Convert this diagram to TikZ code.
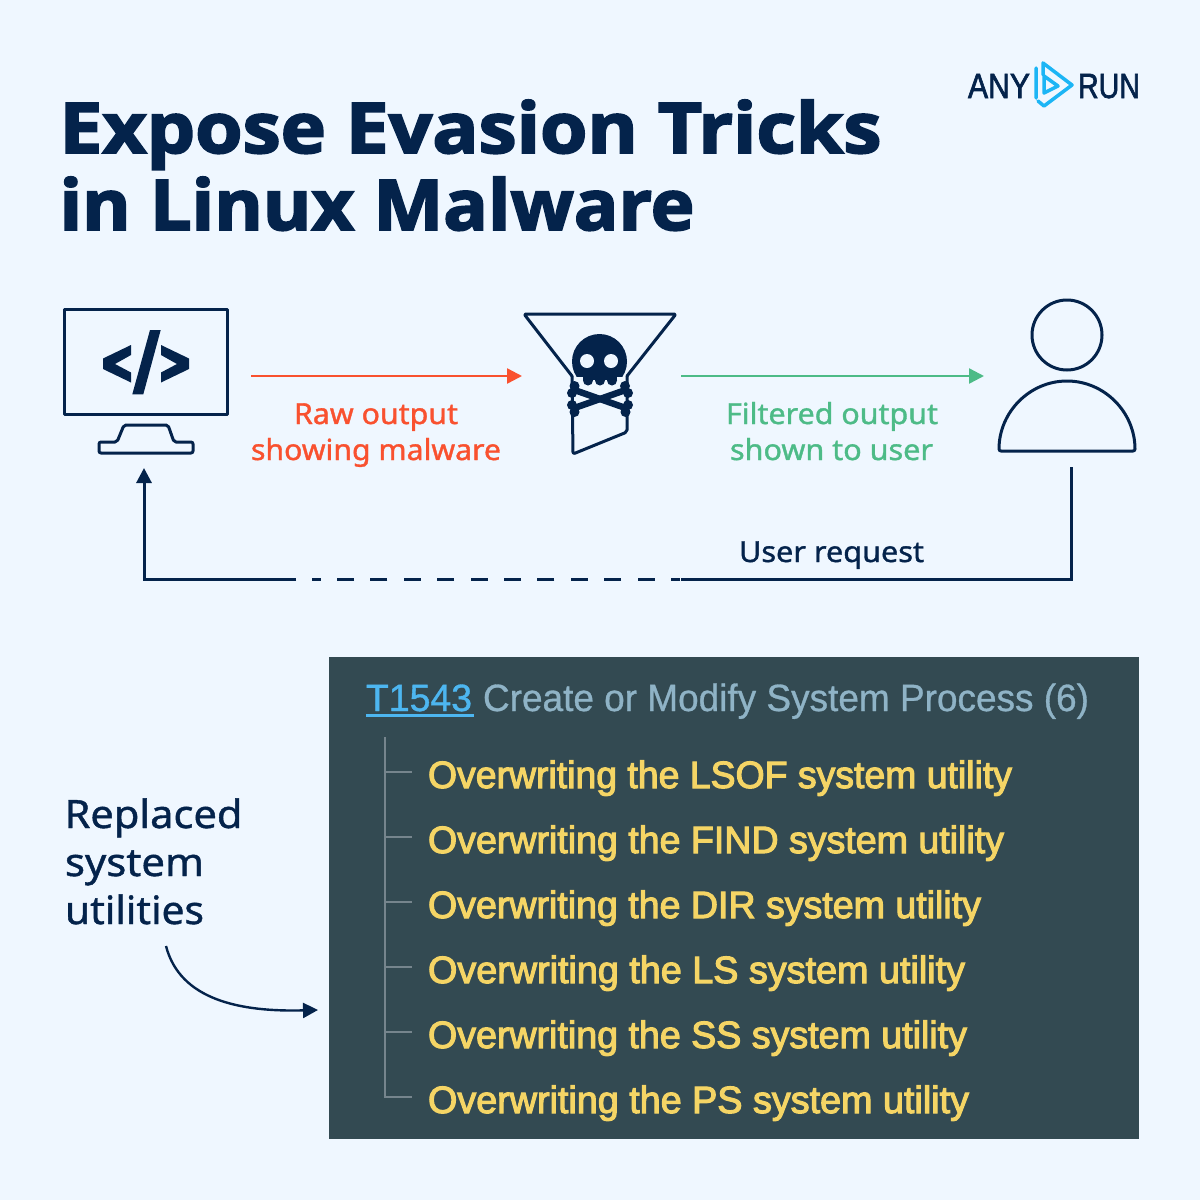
\documentclass[tikz,border=0pt]{standalone}
\usepackage{graphicx}
\usepackage{fontspec}
\setmainfont{Open Sans}
\newfontfamily\titlefont{Open Sans}
\newfontfamily\bodyfont{Noto Sans}
\newfontfamily\panelfont{Liberation Sans}
\newfontfamily\itemfont{Liberation Sans}
\newfontfamily\logofont{Liberation Sans}
\usetikzlibrary{arrows.meta}
\definecolor{bgc}{HTML}{EFF7FF}
\definecolor{navy}{HTML}{04234B}
\definecolor{redc}{HTML}{F9512F}
\definecolor{greenc}{HTML}{4DBB87}
\definecolor{panelc}{HTML}{334A52}
\definecolor{linkc}{HTML}{4DB6F0}
\definecolor{grayblue}{HTML}{8FB3C6}
\definecolor{yellowc}{HTML}{F5D565}
\definecolor{treec}{HTML}{76858D}
\definecolor{cyanc}{HTML}{1CB5F5}
% #1 target width, #2 stroke added to the glyphs, #3 text
\newcommand{\ft}[3]{\resizebox{#1pt}{\height}{\special{pdf:code 2 Tr #2 w}#3\special{pdf:code 0 Tr 1 w}}}
\tikzset{
  lbl/.style={anchor=base west,inner sep=0pt,outer sep=0pt},
  icon/.style={draw=navy,line width=3pt,line join=round,line cap=round},
  tip/.style={-{Triangle[length=15pt,width=15pt]}},
  wire/.style={line width=2.4pt},
  tree/.style={draw=treec,line width=2pt},
  bone/.style={draw=navy,line width=6.5pt}
}
\begin{document}
\begin{tikzpicture}[x=1pt,y=-1pt]
\useasboundingbox (0,0) rectangle (1200,1200);
\fill[bgc] (0,0) rectangle (1200,1200);

% title
\node[lbl,text=navy,font=\titlefont\bfseries\fontsize{70}{70}\selectfont] (t1) at (59.5,153) {\ft{822}{1.8}{Expose Evasion Tricks}};
\node[lbl,text=navy,font=\titlefont\bfseries\fontsize{70}{70}\selectfont] (t2) at (59.5,230) {\ft{635}{1.8}{in Linux Malware}};

% logo
\node[lbl,text=navy,font=\logofont\fontsize{35}{35}\selectfont] (any) at (968,98) {\ft{62}{0.7}{ANY}};
\node[lbl,text=navy,font=\logofont\fontsize{35}{35}\selectfont] (run) at (1078,98) {\ft{62}{0.7}{RUN}};
\draw[cyanc,line width=3.5pt,line join=round,line cap=round]
  (1036,68) -- (1036,98)
  (1043,75) -- (1043,63) -- (1072,85) -- (1044,106) -- (1038,101)
  (1044,76) -- (1058,86) -- (1044,93) -- cycle;

% monitor
\draw[icon] (64,309) rectangle (227.5,414);
\draw[icon,rounded corners=2pt] (99,442) -- (117,442) -- (124,425) -- (168,425) -- (174,442) -- (193,442) -- (193,453) -- (99,453) -- cycle;
\fill[navy] (131,345) -- (103,358.5) -- (103,369) -- (131,382.5) -- (131,372.5) -- (115,364) -- (131,355) -- cycle;
\fill[navy] (161,345) -- (189,358.5) -- (189,369) -- (161,382.5) -- (161,372.5) -- (177,364) -- (161,355) -- cycle;
\fill[navy] (150,330) -- (160.7,330) -- (143.3,394.3) -- (132.3,394.3) -- cycle;

% filter and skull
\draw[icon,rounded corners=2pt] (572,376) -- (524,314) -- (676,314) -- (627,376);
\draw[icon,rounded corners=2pt] (627,376) -- (627,432) -- (573,454) -- (572,376);
\begin{scope}
\clip (560,330) rectangle (640,376);
\fill[navy] (599.5,361.5) circle[radius=27.5];
\end{scope}
\fill[navy] (583,370) rectangle (617,380);
\fill[navy] (588,380.5) circle[radius=5] (600,380.5) circle[radius=5] (612,380.5) circle[radius=5];
\fill[bgc] (587,361) circle[radius=7];
\fill[bgc] (611,361) circle[radius=7];
\draw[bone] (573,389.5) -- (627,408.5);
\draw[bone] (573,408.5) -- (627,389.5);
\fill[navy] (574.5,386) circle[radius=5] (572,393) circle[radius=5]
            (572,405) circle[radius=5] (574.5,412) circle[radius=5]
            (625,386) circle[radius=5] (628,393) circle[radius=5]
            (628,405) circle[radius=5] (625.5,412) circle[radius=5];

% user
\draw[icon] (1067,335) circle[radius=35];
\draw[icon,rounded corners=2pt] (999,451) arc[start angle=180,end angle=0,x radius=68,y radius=-70] -- cycle;

% horizontal connectors
\coordinate (a1) at (251,376);
\coordinate (a2) at (522,376);
\coordinate (b1) at (681,376);
\coordinate (b2) at (984,376);
\draw[redc,wire,tip] (a1) -- (a2);
\draw[greenc,wire,tip] (b1) -- (b2);

\node[lbl,text=redc,font=\bodyfont\fontsize{29}{29}\selectfont] (r1) at (294,424) {\ft{164}{0.35}{Raw output}};
\node[lbl,text=redc,font=\bodyfont\fontsize{29}{29}\selectfont] (r2) at (251,460) {\ft{250}{0.35}{showing malware}};
\node[lbl,text=greenc,font=\bodyfont\fontsize{29}{29}\selectfont] (g1) at (726,424) {\ft{212}{0.35}{Filtered output}};
\node[lbl,text=greenc,font=\bodyfont\fontsize{29}{29}\selectfont] (g2) at (730,460) {\ft{203}{0.35}{shown to user}};
\node[lbl,text=navy,font=\bodyfont\fontsize{29}{29}\selectfont] (u) at (739,562) {\ft{185}{0.35}{User request}};

% feedback
\coordinate (c1) at (1071,467);
\coordinate (c2) at (1071,579);
\coordinate (c3) at (681,579);
\coordinate (c4) at (680,579);
\coordinate (c5) at (312,579);
\coordinate (c6) at (296,579);
\coordinate (c7) at (144,579);
\coordinate (c8) at (144,468);
\draw[navy,line width=3pt] (c1) -- (c2) -- (c3);
\draw[navy,line width=3pt,dash pattern=on 17pt off 16.4pt,dash phase=8pt] (c4) -- (c5);
\draw[navy,line width=3pt,tip] (c6) -- (c7) -- (c8);

% panel
\fill[panelc] (329,657) rectangle (1139,1139);
\node[lbl,text=linkc,font=\panelfont\fontsize{38}{38}\selectfont] (tid) at (366,711) {\ft{106}{0.4}{T1543}};
\draw[linkc,line width=3pt] (366,715.5) -- (474,715.5);
\node[lbl,text=grayblue,font=\panelfont\fontsize{38}{38}\selectfont] (tname) at (483,711) {\ft{606}{0.3}{Create or Modify System Process (6)}};
\draw[tree] (385,737) -- (385,1097) -- (412,1097);
\foreach \yy in {772,837,902,967,1032}{\draw[tree] (385,\yy) -- (412,\yy);}
\node[lbl,text=yellowc,font=\itemfont\fontsize{38}{38}\selectfont] (i1) at (428,788) {\ft{584}{1.1}{Overwriting the LSOF system utility}};
\node[lbl,text=yellowc,font=\itemfont\fontsize{38}{38}\selectfont] (i2) at (428,853) {\ft{576}{1.1}{Overwriting the FIND system utility}};
\node[lbl,text=yellowc,font=\itemfont\fontsize{38}{38}\selectfont] (i3) at (428,918) {\ft{553}{1.1}{Overwriting the DIR system utility}};
\node[lbl,text=yellowc,font=\itemfont\fontsize{38}{38}\selectfont] (i4) at (428,983) {\ft{537}{1.1}{Overwriting the LS system utility}};
\node[lbl,text=yellowc,font=\itemfont\fontsize{38}{38}\selectfont] (i5) at (428,1048) {\ft{539}{1.1}{Overwriting the SS system utility}};
\node[lbl,text=yellowc,font=\itemfont\fontsize{38}{38}\selectfont] (i6) at (428,1113) {\ft{541}{1.1}{Overwriting the PS system utility}};

% left caption
\node[lbl,text=navy,font=\bodyfont\fontsize{39}{39}\selectfont] (l1) at (64.5,828) {\ft{178}{0.4}{Replaced}};
\node[lbl,text=navy,font=\bodyfont\fontsize{39}{39}\selectfont] (l2) at (65,876) {\ft{139}{0.4}{system}};
\node[lbl,text=navy,font=\bodyfont\fontsize{39}{39}\selectfont] (l3) at (65,924) {\ft{139}{0.4}{utilities}};
\coordinate (d1) at (166,946);
\coordinate (d2) at (318,1010);
\draw[navy,line width=2.4pt,tip] (d1) .. controls (180,1000) and (240,1012) .. (d2);
\end{tikzpicture}
\end{document}
